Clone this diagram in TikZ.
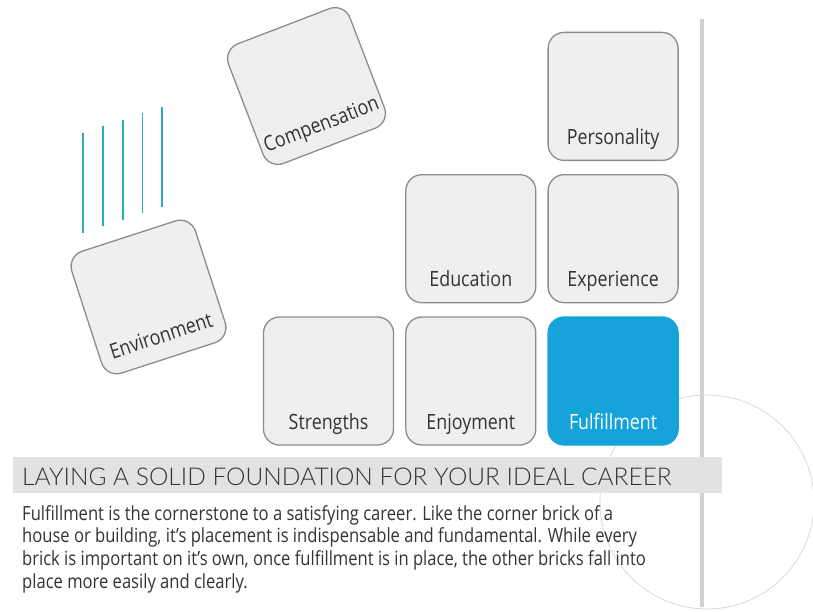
\documentclass[tikz,border=0pt]{standalone}
\usepackage{fontspec}
\setmainfont[FakeStretch=0.85]{Open Sans}
\IfFontExistsTF{Lato Light}{\newfontfamily\titlefont{Lato Light}}{\newfontfamily\titlefont{Lato}}
\usetikzlibrary{positioning}
\definecolor{brickgray}{HTML}{EFEFEF}
\definecolor{brickline}{HTML}{8C8C8C}
\definecolor{cornerblue}{RGB}{22,163,218}
\definecolor{rain}{HTML}{2FA8C2}
\definecolor{inkgray}{HTML}{333333}
\definecolor{bandgray}{HTML}{E2E2E2}
\tikzset{
  brick/.style={
    draw=brickline,
    fill=brickgray,
    rectangle,
    rounded corners=16pt,
    line width=1.3pt,
    inner sep=0pt,
    minimum width=130pt,
    text height=112pt,
    text depth=16pt,
    font=\fontsize{21}{24}\selectfont,
    text=inkgray
  },
  cornerbrick/.style={
    brick,
    draw=cornerblue,
    fill=cornerblue,
    text=white
  },
  rain line/.style={
    rain,
    line width=1.8pt
  }
}

\begin{document}
\begin{tikzpicture}[x=1pt, y=-1pt]
  \useasboundingbox (0,0) rectangle (813,612);

  % faint ring and the side rule
  \draw[black!15, line width=0.8pt] (707,502) circle[radius=107pt];
  \draw[black!18, line width=3.5pt] (702,19) -- (702,607);

  % the wall, built from the corner out
  \node[brick] (str) at (328.5,381) {Strengths};
  \node[brick, right=11pt of str] (enj) {Enjoyment};
  \node[cornerbrick, right=11pt of enj] (ful) {Fulfillment};
  \node[brick, above=13pt of enj] (edu) {Education};
  \node[brick, above=13pt of ful] (exp) {Experience};
  \node[brick, above=13pt of exp] (per) {Personality};

  % loose bricks
  \begin{scope}[shift={(306.5,86)}, rotate=21, transform shape]
    \node[brick] (comp) {Compensation};
  \end{scope}
  \begin{scope}[shift={(148.5,297)}, rotate=18, transform shape]
    \node[brick] (env) {Environment};
  \end{scope}

  % falling lines
  \foreach \i in {0,...,4}
    \draw[rain line] ({83+19.8*\i},{133-6.5*\i}) -- ++(0,100);

  % caption
  \fill[bandgray] (13,457) rectangle (722,493);
  \node[anchor=base west, inner sep=0, text=inkgray,
        font=\titlefont\fontsize{24.5}{28}\selectfont] (title) at (22,485)
    {LAYING A SOLID FOUNDATION FOR YOUR IDEAL CAREER};
  \node[anchor=north west, inner sep=0, align=left, text=inkgray,
        font=\fontsize{19.5}{22.7}\selectfont] (blurb) at (22,505)
    {Fulfillment is the cornerstone to a satisfying career. Like the corner brick of a\\
     house or building, it's placement is indispensable and fundamental. While every\\
     brick is important on it's own, once fulfillment is in place, the other bricks fall into\\
     place more easily and clearly.};
\end{tikzpicture}
\end{document}
